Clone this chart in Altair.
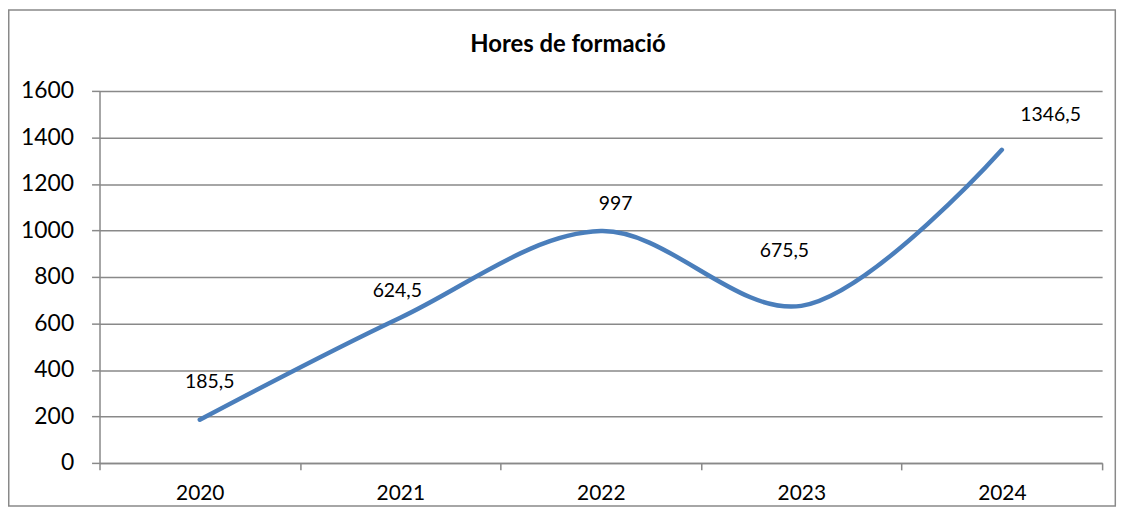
import altair as alt
import pandas as pd

years = ["2020", "2021", "2022", "2023", "2024"]
hores = [185.5, 624.5, 997, 675.5, 1346.5]
title_text = "Hores de formació"

df = pd.DataFrame({"any": years, "hores": hores})
tdf = pd.DataFrame({"t": [title_text]})

FONT = "Lato"
GRAY = "#898989"
W, H = 1008, 374

x_enc = alt.X(
    "any:O",
    scale=alt.Scale(type="band", paddingInner=0, paddingOuter=0),
    axis=alt.Axis(
        title=None, labelAngle=0, tickBand="extent", grid=False,
        tickSize=7, labelPadding=24, labelBaseline="middle",
        labelFontSize=21, labelFont=FONT, labelColor="#000000",
        domainColor=GRAY, tickColor=GRAY, domainWidth=1.5, tickWidth=1.5,
    ),
)
y_enc = alt.Y(
    "hores:Q",
    scale=alt.Scale(domain=[0, 1600], nice=False),
    axis=alt.Axis(
        title=None, values=list(range(0, 1601, 200)), format="d", grid=True,
        gridColor=GRAY, gridWidth=1.5, tickSize=8, labelPadding=18,
        labelFontSize=23, labelFont=FONT, labelColor="#000000",
        domainColor=GRAY, tickColor=GRAY, domainWidth=1.5, tickWidth=1.5,
    ),
)

base = alt.Chart(df)

line = base.mark_line(
    interpolate="catmull-rom", color="#4A7EBB", strokeWidth=4.5, strokeCap="round"
).encode(x=x_enc, y=y_enc)

offsets = [(10, -38), (-3, -27), (15, -27), (-17, -55), (49, -35)]
labels = []
for yr, (ddx, ddy) in zip(years, offsets):
    labels.append(
        base.transform_filter(alt.datum.any == yr)
        .transform_calculate(lbl="replace(toString(datum.hores), '.', ',')")
        .mark_text(dx=ddx, dy=ddy, fontSize=19.5, font=FONT, color="#000000", baseline="middle")
        .encode(x=alt.X("any:O"), y=alt.Y("hores:Q"), text="lbl:N")
    )

title = alt.Chart(tdf).mark_text(
    fontSize=24, fontWeight="bold", font=FONT, color="#000000", baseline="middle"
).encode(x=alt.value(471), y=alt.value(-46), text="t:N")

border = alt.Chart(tdf).mark_rect(fill="transparent", stroke=GRAY, strokeWidth=1.5).encode(
    x=alt.value(-91.25), x2=alt.value(1021.25), y=alt.value(-81.25), y2=alt.value(417.25)
)

chart = alt.layer(border, line, *labels, title).properties(
    width=W, height=H,
    padding={"left": 92, "top": 82, "right": 22, "bottom": 44},
    autosize=alt.AutoSizeParams(type="none"),
).configure_view(stroke=None)

chart.save("out.html", embed_options={"renderer": "svg", "actions": False})
